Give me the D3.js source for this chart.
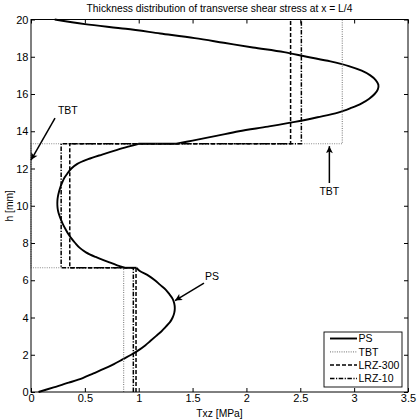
<!DOCTYPE html>
<html>
<head>
<meta charset="utf-8">
<script src="https://cdn.jsdelivr.net/npm/d3@7"></script>
<style>
  html, body { margin: 0; padding: 0; background: #fff; }
  svg { display: block; font-family: "Liberation Sans", Arial, Helvetica, sans-serif; }
</style>
</head>
<body>
<svg id="chart" width="420" height="420"></svg>
<script>
// ---------- data ----------
const chartTitle = "Thickness distribution of transverse shear stress at x = L/4";
const xLabel = "Txz [MPa]";
const yLabel = "h [mm]";
const xTicks = [0, 0.5, 1, 1.5, 2, 2.5, 3, 3.5];
const xTickLabels = ["0", "0.5", "1", "1.5", "2", "2.5", "3", "3.5"];
const yTicks = [0, 2, 4, 6, 8, 10, 12, 14, 16, 18, 20];
const yTickLabels = ["0", "2", "4", "6", "8", "10", "12", "14", "16", "18", "20"];

// layer interfaces (mm)
const layerBounds = [0, 6.67, 13.33, 20];

// piecewise-constant theories: value per layer (bottom, middle, top)
const tbtValues    = [0.86, 0.0, 2.89];
const lrz300Values = [0.975, 0.36, 2.41];
const lrz10Values  = [0.95, 0.28, 2.51];

// PS solution: [h, Txz] per layer
const psBottom = [
  [0, 0.07], [0.25, 0.21], [0.5, 0.35], [0.75, 0.48], [1.0, 0.58], [1.25, 0.68],
  [1.5, 0.77], [1.75, 0.85], [2.0, 0.93], [2.25, 1.0], [2.5, 1.06], [2.75, 1.11],
  [3.0, 1.16], [3.25, 1.21], [3.5, 1.25], [3.75, 1.29], [4.0, 1.315], [4.25, 1.33],
  [4.5, 1.335], [4.75, 1.33], [5.0, 1.315], [5.25, 1.285], [5.5, 1.25], [5.75, 1.2],
  [6.0, 1.15], [6.25, 1.09], [6.5, 1.01], [6.67, 0.98]
];
const psMiddle = [
  [6.67, 0.87], [6.8, 0.8], [7.0, 0.71], [7.25, 0.6], [7.5, 0.51], [7.75, 0.45],
  [8.0, 0.41], [8.25, 0.375], [8.5, 0.345], [8.75, 0.32], [9.0, 0.297], [9.25, 0.278],
  [9.5, 0.262], [9.75, 0.25], [10.0, 0.245], [10.25, 0.245], [10.5, 0.25], [10.75, 0.26],
  [11.0, 0.273], [11.25, 0.29], [11.5, 0.31], [11.75, 0.34], [12.0, 0.375], [12.25, 0.43],
  [12.5, 0.53], [12.75, 0.66], [13.0, 0.8], [13.2, 0.92], [13.33, 1.0]
];
const psTop = [
  [13.33, 1.35], [13.5, 1.5], [13.75, 1.72], [14.0, 1.93], [14.25, 2.2], [14.5, 2.45],
  [14.75, 2.66], [15.0, 2.85], [15.25, 2.97], [15.5, 3.07], [15.75, 3.14], [16.0, 3.19],
  [16.25, 3.22], [16.5, 3.225], [16.75, 3.2], [17.0, 3.15], [17.25, 3.07], [17.5, 2.95],
  [17.75, 2.78], [18.0, 2.56], [18.25, 2.35], [18.5, 2.06], [18.75, 1.79], [19.0, 1.52],
  [19.25, 1.2], [19.5, 0.88], [19.75, 0.5], [20.0, 0.22]
];

const legendLabels = ["PS", "TBT", "LRZ-300", "LRZ-10"];

// annotations in data units: text position, arrow start, arrow end
const annotations = [
  { text: "TBT", tx: 0.25, th: 14.92, anchor: "start",  x1: 0.223, h1: 14.7, x2: 0.0,  h2: 12.45 },
  { text: "TBT", tx: 2.77, th: 10.57, anchor: "middle", x1: 2.77, h1: 11.22, x2: 2.77, h2: 13.2 },
  { text: "PS",  tx: 1.616, th: 6.01, anchor: "start",  x1: 1.606, h1: 5.85, x2: 1.337, h2: 4.91 }
];

// ---------- layout ----------
const svg = d3.select("#chart");
const L = 31, R = 408, T = 19.5, B = 392;
const x = d3.scaleLinear().domain([0, 3.5]).range([L, R]);
const y = d3.scaleLinear().domain([0, 20]).range([B, T]);

const styles = {
  PS:      { stroke: "#000", width: 1.9, dash: null },
  TBT:     { stroke: "#8a8a8a", width: 1.2, dash: "1,1.3" },
  "LRZ-300": { stroke: "#000", width: 1.5, dash: "4,2" },
  "LRZ-10":  { stroke: "#000", width: 1.5, dash: "4.5,1.5,1.2,1.5" }
};

// title
svg.append("text")
  .attr("x", (L + R) / 2).attr("y", 12.3)
  .attr("text-anchor", "middle")
  .attr("font-size", 10.3)
  .text(chartTitle);

// axes
const gx = svg.append("g").attr("transform", `translate(0,${B})`)
  .call(d3.axisBottom(x).tickValues(xTicks).tickFormat((d, i) => xTickLabels[i])
    .tickSizeInner(-4).tickSizeOuter(0).tickPadding(2.5));
const gxt = svg.append("g").attr("transform", `translate(0,${T})`)
  .call(d3.axisTop(x).tickValues(xTicks).tickFormat("")
    .tickSizeInner(-4).tickSizeOuter(0));
const gy = svg.append("g").attr("transform", `translate(${L},0)`)
  .call(d3.axisLeft(y).tickValues(yTicks).tickFormat((d, i) => yTickLabels[i])
    .tickSizeInner(-4).tickSizeOuter(0).tickPadding(2.5));
const gyr = svg.append("g").attr("transform", `translate(${R},0)`)
  .call(d3.axisRight(y).tickValues(yTicks).tickFormat("")
    .tickSizeInner(-4).tickSizeOuter(0));

[gx, gxt, gy, gyr].forEach(g => {
  g.select(".domain").remove();
  g.selectAll(".tick line").attr("stroke", "#000").attr("stroke-width", 1);
  g.selectAll(".tick text").attr("font-size", 11).attr("fill", "#000")
    .attr("font-family", "\"Liberation Sans\", Arial, sans-serif");
});

// axis labels
svg.append("text")
  .attr("x", (L + R) / 2).attr("y", 417)
  .attr("text-anchor", "middle").attr("font-size", 10.3)
  .text(xLabel);
svg.append("text")
  .attr("transform", `translate(12.5,${(T + B) / 2}) rotate(-90)`)
  .attr("text-anchor", "middle").attr("font-size", 10.3)
  .text(yLabel);

// ---------- series ----------
const plot = svg.append("g");

function stepPoints(vals) {
  const pts = [];
  vals.forEach((v, i) => {
    pts.push([v, layerBounds[i]]);
    pts.push([v, layerBounds[i + 1]]);
  });
  return pts;
}
const stepLine = d3.line().x(d => x(d[0])).y(d => y(d[1]));

function drawSeries(pts, st) {
  const p = plot.append("path")
    .attr("d", stepLine(pts))
    .attr("fill", "none")
    .attr("stroke", st.stroke)
    .attr("stroke-width", st.width);
  if (st.dash) p.attr("stroke-dasharray", st.dash);
}

// PS: smooth per layer, straight jumps at interfaces
const psCurve = d3.line().x(d => x(d[1])).y(d => y(d[0])).curve(d3.curveCatmullRom.alpha(0.5));
const psSegments = [psBottom, psMiddle, psTop];
psSegments.forEach(seg => {
  plot.append("path").attr("d", psCurve(seg))
    .attr("fill", "none").attr("stroke", styles.PS.stroke)
    .attr("stroke-width", styles.PS.width).attr("stroke-linejoin", "round");
});
for (let i = 0; i < psSegments.length - 1; i++) {
  const a = psSegments[i][psSegments[i].length - 1];
  const b = psSegments[i + 1][0];
  plot.append("path").attr("d", psCurve([a, b]))
    .attr("fill", "none").attr("stroke", styles.PS.stroke)
    .attr("stroke-width", styles.PS.width);
}

drawSeries(stepPoints(tbtValues), styles.TBT);
drawSeries(stepPoints(lrz300Values), styles["LRZ-300"]);
drawSeries(stepPoints(lrz10Values), styles["LRZ-10"]);

// frame
svg.append("rect")
  .attr("x", L).attr("y", T).attr("width", R - L).attr("height", B - T)
  .attr("fill", "none").attr("stroke", "#000").attr("stroke-width", 1);

// ---------- annotations ----------
const defs = svg.append("defs");
defs.append("marker")
  .attr("id", "arrow").attr("viewBox", "0 0 10 10")
  .attr("refX", 10).attr("refY", 5)
  .attr("markerUnits", "userSpaceOnUse")
  .attr("markerWidth", 9).attr("markerHeight", 7)
  .attr("orient", "auto")
  .append("path").attr("d", "M0,0 L10,5 L0,10 L2.5,5 Z").attr("fill", "#000");

annotations.forEach(a => {
  svg.append("line")
    .attr("x1", x(a.x1)).attr("y1", y(a.h1))
    .attr("x2", x(a.x2)).attr("y2", y(a.h2))
    .attr("stroke", "#000").attr("stroke-width", 1.5)
    .attr("marker-end", "url(#arrow)");
  svg.append("text")
    .attr("x", x(a.tx)).attr("y", y(a.th))
    .attr("text-anchor", a.anchor).attr("font-size", 10.5)
    .text(a.text);
});

// ---------- legend ----------
const lg = svg.append("g");
lg.append("rect")
  .attr("x", 324).attr("y", 332).attr("width", 78).attr("height", 55)
  .attr("fill", "#fff").attr("stroke", "#000").attr("stroke-width", 0.9);
legendLabels.forEach((name, i) => {
  const yy = 338.5 + i * 13.3;
  const st = styles[name];
  const ln = lg.append("line")
    .attr("x1", 330).attr("x2", 357).attr("y1", yy).attr("y2", yy)
    .attr("stroke", st.stroke).attr("stroke-width", st.width);
  if (st.dash) ln.attr("stroke-dasharray", st.dash);
  lg.append("text")
    .attr("x", 358.5).attr("y", yy + 3.8)
    .attr("font-size", 10.5)
    .text(name);
});
</script>
</body>
</html>
